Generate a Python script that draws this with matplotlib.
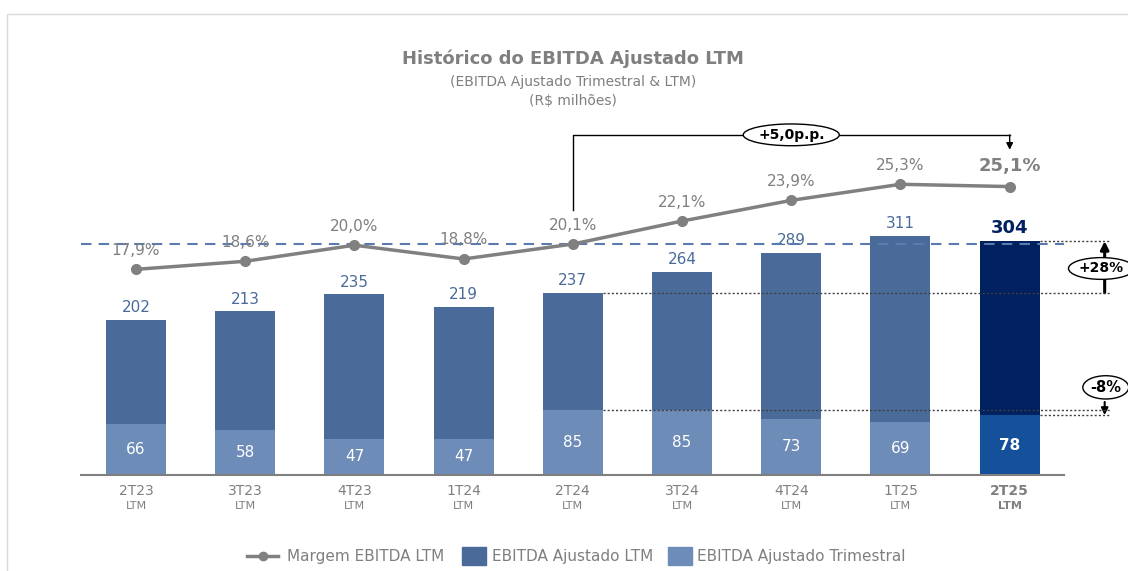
import numpy as np
import matplotlib
matplotlib.use('Agg')
import matplotlib.pyplot as plt
from matplotlib.lines import Line2D
from matplotlib.patches import Rectangle

plt.rcParams['font.family'] = ['DejaVu Sans']

# data
periods = ['2T23', '3T23', '4T23', '1T24', '2T24', '3T24', '4T24', '1T25', '2T25']
ebitda_ltm = [202, 213, 235, 219, 237, 264, 289, 311, 304]
ebitda_tri = [66, 58, 47, 47, 85, 85, 73, 69, 78]
margem = [17.9, 18.6, 20.0, 18.8, 20.1, 22.1, 23.9, 25.3, 25.1]
var_margem = '+5,0p.p.'
var_ltm = '+28%'
var_tri = '-8%'
leg_labels = ['Margem EBITDA LTM', 'EBITDA Ajustado LTM', 'EBITDA Ajustado Trimestral']

c_ltm = '#4a6a9a'
c_tri = '#6e8cb8'
c_ltm_last = '#002060'
c_tri_last = '#15509a'
c_gray = '#7f7f7f'
c_line = '#808080'

x = np.arange(len(periods))
n = len(periods)

fig = plt.figure(figsize=(11.28, 5.71), dpi=100)
ax = fig.add_axes([0.0722, 0.168, 0.8713, 0.622])
ax2 = ax.twinx()
ax.set_zorder(1)
ax2.set_zorder(2)
ax.patch.set_visible(False)

w = 0.55
cols_ltm = [c_ltm] * (n - 1) + [c_ltm_last]
cols_tri = [c_tri] * (n - 1) + [c_tri_last]
ax.bar(x, ebitda_ltm, w, color=cols_ltm, zorder=2)
ax.bar(x, ebitda_tri, w, color=cols_tri, zorder=3)

ax.set_xlim(-0.5, 8.5)
ax.set_ylim(0, 461.6)
ax2.set_ylim(0, 30.9)
for a in (ax, ax2):
    a.set_yticks([])
    for s in a.spines.values():
        s.set_visible(False)
ax.set_xticks([])

# base line
ax.axhline(0, color='#7f7f7f', lw=1.5, zorder=4, clip_on=False)

# labels on bars
for i in range(n):
    last = i == n - 1
    ax.text(x[i], ebitda_ltm[i] + 6, str(ebitda_ltm[i]), ha='center', va='bottom',
            fontsize=13 if last else 11, color=c_ltm_last if last else c_ltm,
            fontweight='bold' if last else 'normal', zorder=5)
    ax.text(x[i], ebitda_tri[i] / 2, str(ebitda_tri[i]), ha='center', va='center',
            fontsize=11, color='white', fontweight='bold' if last else 'normal', zorder=5)
    ax.text(x[i], -0.045, periods[i], transform=ax.get_xaxis_transform(), ha='center',
            va='center', fontsize=10, color=c_gray, fontweight='bold' if last else 'normal')
    ax.text(x[i], -0.087, 'LTM', transform=ax.get_xaxis_transform(), ha='center',
            va='center', fontsize=8, color=c_gray, fontweight='bold' if last else 'normal')

# margin line
ax2.axhline(margem[4], color='#5b7bb0', lw=1.5, ls=(0, (5, 3.5)), zorder=1)
ax2.plot(x, margem, color=c_line, lw=2.5, marker='o', ms=7, zorder=3)
for i in range(n):
    last = i == n - 1
    ax2.text(x[i], margem[i] + 1.0, f'{margem[i]:.1f}%'.replace('.', ','), ha='center',
             va='bottom', fontsize=13 if last else 11, color=c_gray,
             fontweight='bold' if last else 'normal', zorder=5)

# bracket +5,0p.p.
top = 29.6
ax2.plot([x[4], x[4], x[8]], [margem[4] + 3.0, top, top], color='black', lw=1, clip_on=False)
ax2.annotate('', xy=(x[8], margem[8] + 3.2), xytext=(x[8], top),
             arrowprops=dict(arrowstyle='-|>', color='black', lw=1, shrinkA=0, shrinkB=0,
                             mutation_scale=10), annotation_clip=False)
ax2.text((x[4] + x[8]) / 2, top, var_margem, ha='center', va='center', fontsize=10,
         fontweight='bold', bbox=dict(boxstyle='ellipse,pad=0.05', fc='white', ec='black', lw=1),
         zorder=6)

# dotted reference lines
xa = 8.87
dot = dict(color='#404040', lw=1, ls=(0, (1.5, 1.5)), clip_on=False, zorder=4)
ax.plot([x[4] + w / 2, 8.92], [ebitda_ltm[4]] * 2, **dot)
ax.plot([x[8] + w / 2, 8.92], [ebitda_ltm[8]] * 2, **dot)
ax.plot([x[4] + w / 2, 8.92], [ebitda_tri[4]] * 2, **dot)
ax.plot([x[8] + w / 2, 8.92], [ebitda_tri[8]] * 2, **dot)

ax.annotate('', xy=(xa, ebitda_ltm[8]), xytext=(xa, ebitda_ltm[4]),
            arrowprops=dict(arrowstyle='-|>', color='black', lw=2.2, shrinkA=0, shrinkB=0,
                            mutation_scale=12), annotation_clip=False)
ax.text(xa - 0.03, (ebitda_ltm[4] + ebitda_ltm[8]) / 2 - 2, var_ltm, ha='center', va='center',
        fontsize=10, fontweight='bold',
        bbox=dict(boxstyle='ellipse,pad=0.05', fc='white', ec='black', lw=1), zorder=6)
ax.annotate('', xy=(xa, ebitda_tri[8]), xytext=(xa, ebitda_tri[4] + 10),
            arrowprops=dict(arrowstyle='-|>', color='black', lw=1.5, shrinkA=0, shrinkB=0,
                            mutation_scale=10), annotation_clip=False)
ax.text(xa + 0.01, ebitda_tri[4] + 29, var_tri, ha='center', va='center',
        fontsize=10.5, fontweight='bold',
        bbox=dict(boxstyle='ellipse,pad=0.05', fc='white', ec='black', lw=1), zorder=6)

# titles
fig.text(0.508, 0.897, 'Histórico do EBITDA Ajustado LTM', ha='center', va='center',
         fontsize=13, fontweight='bold', color=c_gray)
fig.text(0.508, 0.857, '(EBITDA Ajustado Trimestral & LTM)', ha='center', va='center',
         fontsize=10, color=c_gray)
fig.text(0.508, 0.823, '(R$ milhões)', ha='center', va='center', fontsize=10, color=c_gray)

# legend (drawn by hand to match the spacing)
W, H = 1128.0, 571.0
ly = 1 - 556 / H
fig.add_artist(Line2D([247 / W, 278 / W], [ly, ly], color=c_line, lw=2.5,
                      transform=fig.transFigure))
fig.add_artist(Line2D([262.5 / W], [ly], color=c_line, marker='o', ms=6,
                      transform=fig.transFigure))
fig.text(287 / W, ly, leg_labels[0], ha='left', va='center', fontsize=11, color=c_gray)
fig.add_artist(Rectangle((462 / W, ly - 9 / H), 24 / W, 18 / H, color=c_ltm,
                         transform=fig.transFigure))
fig.text(492 / W, ly, leg_labels[1], ha='left', va='center', fontsize=11, color=c_gray)
fig.add_artist(Rectangle((668 / W, ly - 9 / H), 24 / W, 18 / H, color=c_tri,
                         transform=fig.transFigure))
fig.text(697 / W, ly, leg_labels[2], ha='left', va='center', fontsize=11, color=c_gray)

# light frame
fig.add_artist(Rectangle((6.5 / W, -0.1), 1.2, 1.1 - 13.5 / H, transform=fig.transFigure,
                         fill=False, ec='#d9d9d9', lw=1))

fig.savefig('out.png', dpi=100)
